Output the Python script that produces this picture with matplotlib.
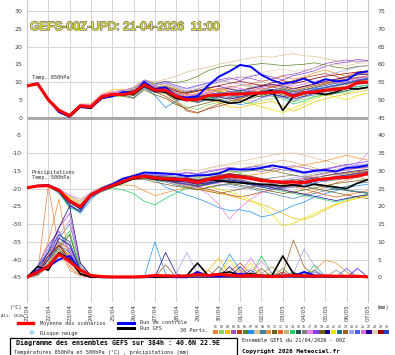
import matplotlib
matplotlib.use('Agg')
import matplotlib.pyplot as plt
from matplotlib.lines import Line2D
from matplotlib.patches import Rectangle
import matplotlib.patheffects as pe

# 12-hourly steps of the 00Z run, 0..384h
hours = list(range(0, 385, 12))
day_hours = list(range(0, 385, 24))
day_labels = ['21/04', '22/04', '23/04', '24/04', '25/04', '26/04', '27/04', '28/04', '29/04',
              '30/04', '01/05', '02/05', '03/05', '04/05', '05/05', '06/05', '07/05']

# ---- temperature 850 hPa (degC)
t850_mean = [8.9, 9.5, 5.0, 2.0, 0.5, 3.3, 3.0, 5.8, 6.5, 6.5, 6.9, 9.2, 7.7, 7.7, 6.0, 5.0, 5.0,
             6.2, 6.3, 6.6, 6.6, 6.8, 6.9, 7.1, 7.2, 6.0, 7.0, 7.2, 7.7, 8.0, 8.3, 9.8, 10.0]
t850_ctrl = [9.0, 9.6, 5.2, 1.5, 0.3, 3.2, 2.8, 5.5, 6.0, 7.2, 6.8, 10.0, 8.0, 8.5, 6.0, 5.6, 6.0,
             9.0, 11.5, 13.0, 14.8, 14.3, 12.0, 10.5, 9.5, 10.0, 11.0, 9.6, 10.8, 10.2, 10.5, 12.5, 13.0]
t850_gfs = [8.9, 9.4, 4.8, 1.6, 0.2, 3.0, 2.6, 5.4, 6.2, 6.8, 6.4, 8.8, 7.4, 7.2, 5.4, 4.8, 5.2,
            5.0, 4.8, 4.0, 4.3, 5.8, 7.0, 7.6, 2.0, 6.0, 6.8, 7.0, 6.5, 7.2, 8.3, 8.0, 8.5]
t850_members = [
    [8.8, 9.4, 5.3, 2.4, 0.8, 3.6, 3.5, 6.2, 7.0, 7.4, 7.8, 9.8, 8.4, 7.0, 5.2, 4.6, 5.8, 7.0, 7.5, 8.2, 7.6, 8.0, 8.8, 9.2, 8.5, 7.4, 8.6, 9.0, 9.8, 10.5, 11.2, 12.0, 12.4],
    [9.0, 9.6, 4.8, 1.8, 0.2, 2.9, 2.6, 5.2, 5.8, 6.0, 6.2, 8.6, 7.0, 6.8, 4.4, 3.0, 2.2, 3.6, 4.2, 5.0, 4.6, 3.8, 4.8, 5.2, 6.0, 4.4, 5.2, 6.0, 6.6, 7.0, 6.8, 8.0, 8.6],
    [8.9, 9.5, 5.1, 2.2, 0.6, 3.4, 3.3, 6.4, 7.8, 8.0, 7.2, 9.6, 8.8, 8.0, 6.6, 5.8, 6.2, 5.4, 4.2, 3.0, 2.8, 3.6, 4.0, 4.6, 3.2, 1.8, 3.0, 4.4, 5.2, 6.0, 6.6, 7.2, 7.8],
    [8.9, 9.5, 4.9, 1.9, 0.4, 3.1, 2.9, 5.6, 6.2, 7.2, 8.0, 10.2, 9.0, 9.6, 8.2, 7.4, 8.0, 9.2, 10.0, 10.8, 11.4, 11.0, 10.2, 10.8, 11.8, 12.2, 13.0, 14.0, 15.2, 15.8, 16.2, 15.6, 16.0],
    [8.8, 9.4, 5.2, 2.3, 0.7, 3.5, 3.2, 6.0, 6.8, 6.2, 7.0, 9.0, 7.2, 6.0, 4.0, 2.2, 1.4, 2.4, 3.2, 4.0, 5.2, 6.4, 7.6, 8.6, 9.6, 10.4, 11.2, 11.8, 12.4, 11.6, 10.4, 11.2, 11.8],
    [9.0, 9.6, 5.0, 2.0, 0.3, 3.2, 3.1, 5.9, 6.6, 7.6, 8.4, 10.4, 9.6, 10.2, 9.8, 10.4, 11.6, 13.2, 14.2, 14.8, 14.6, 14.8, 15.2, 15.0, 14.6, 14.8, 15.0, 15.4, 14.8, 14.2, 13.8, 14.4, 14.6],
    [8.9, 9.5, 5.0, 1.9, 0.4, 3.0, 2.8, 5.4, 6.0, 6.8, 6.4, 8.6, 6.2, 2.8, 4.6, 5.6, 6.6, 5.8, 5.2, 4.4, 3.6, 4.2, 5.6, 6.4, 5.8, 6.6, 7.8, 8.2, 7.6, 8.8, 9.6, 10.4, 10.8],
    [8.9, 9.5, 5.1, 2.1, 0.6, 3.3, 3.2, 6.0, 6.8, 7.6, 8.6, 10.6, 10.0, 10.8, 11.6, 12.8, 13.6, 14.2, 15.0, 15.6, 16.2, 16.8, 17.2, 17.0, 17.6, 18.0, 17.4, 17.2, 16.6, 16.0, 15.4, 16.0, 15.8],
    [8.8, 9.4, 4.8, 1.7, 0.2, 2.8, 2.7, 5.3, 5.8, 6.4, 5.6, 8.2, 7.0, 7.6, 6.0, 5.2, 4.8, 6.0, 6.8, 6.0, 5.6, 6.4, 7.2, 6.4, 5.8, 4.6, 5.8, 6.4, 7.2, 7.6, 8.2, 8.8, 9.0],
    [9.0, 9.6, 5.2, 2.4, 0.9, 3.8, 3.8, 6.6, 7.2, 6.8, 7.6, 9.8, 8.2, 8.6, 7.4, 6.6, 6.0, 6.8, 7.8, 8.6, 9.0, 9.4, 10.2, 10.8, 11.6, 10.8, 11.4, 12.6, 13.4, 12.4, 11.6, 12.2, 12.6],
    [8.9, 9.5, 5.0, 2.0, 0.5, 3.2, 3.0, 5.8, 6.4, 7.0, 8.0, 9.6, 8.4, 7.0, 6.4, 7.2, 7.6, 8.0, 7.4, 6.8, 7.6, 8.4, 9.2, 8.6, 8.0, 7.2, 7.8, 8.6, 9.4, 10.0, 10.6, 11.4, 11.2],
    [8.9, 9.5, 5.0, 2.1, 0.4, 3.1, 3.1, 5.8, 6.2, 6.6, 6.8, 9.0, 7.6, 8.0, 7.0, 6.2, 6.8, 7.6, 8.2, 7.4, 6.6, 7.4, 8.0, 8.6, 9.2, 8.2, 8.8, 9.6, 10.0, 10.8, 11.6, 12.8, 13.2],
    [8.8, 9.4, 4.9, 1.8, 0.3, 3.0, 2.9, 5.6, 6.2, 7.0, 7.4, 9.4, 8.0, 8.8, 7.8, 6.4, 5.6, 6.6, 7.6, 8.4, 9.2, 8.6, 8.0, 7.4, 6.8, 6.0, 6.8, 7.4, 8.2, 8.8, 9.4, 9.8, 10.2],
    [9.0, 9.6, 5.1, 2.2, 0.7, 3.4, 3.4, 6.2, 6.8, 7.2, 7.2, 9.2, 7.8, 8.2, 6.8, 5.4, 4.8, 5.6, 6.2, 5.6, 6.4, 7.2, 6.6, 6.0, 5.4, 3.8, 4.6, 5.8, 6.4, 7.0, 7.4, 8.6, 9.2],
    [8.9, 9.5, 5.0, 2.0, 0.5, 3.3, 2.9, 5.7, 6.6, 6.2, 6.6, 8.8, 7.4, 7.8, 6.2, 5.0, 4.2, 5.0, 5.8, 6.6, 7.2, 6.4, 5.8, 6.6, 7.4, 6.8, 7.4, 6.8, 6.2, 6.8, 7.6, 8.2, 8.6],
    [8.9, 9.5, 5.0, 2.0, 0.6, 3.4, 3.1, 5.9, 6.4, 6.8, 7.0, 9.4, 8.2, 7.8, 6.8, 5.8, 5.4, 6.2, 6.8, 7.4, 6.8, 6.2, 7.0, 7.8, 7.2, 6.4, 7.2, 7.8, 8.4, 9.0, 9.4, 10.2, 10.8],
    [9.0, 9.6, 5.2, 2.3, 0.8, 3.6, 3.6, 6.4, 7.2, 7.8, 7.0, 9.6, 8.0, 8.4, 7.2, 6.6, 6.2, 7.0, 6.4, 5.8, 5.2, 4.6, 5.4, 6.2, 5.6, 6.8, 7.6, 8.4, 9.2, 9.8, 10.4, 11.0, 11.6],
    [8.8, 9.4, 4.8, 1.6, 0.1, 2.7, 2.6, 5.4, 6.0, 6.6, 7.8, 10.6, 9.4, 10.2, 9.0, 8.2, 9.0, 9.8, 10.6, 11.2, 10.4, 11.6, 12.2, 11.4, 10.6, 11.8, 12.4, 13.2, 14.4, 15.2, 15.6, 16.4, 16.0],
    [8.9, 9.5, 5.0, 2.0, 0.5, 3.2, 3.0, 5.8, 6.4, 6.0, 5.4, 7.8, 6.4, 5.4, 3.6, 2.6, 3.4, 4.2, 5.0, 5.6, 4.8, 5.4, 6.2, 7.0, 6.4, 5.6, 6.4, 7.2, 7.8, 8.4, 8.8, 9.6, 10.0],
    [8.9, 9.5, 5.1, 2.1, 0.6, 3.3, 3.2, 5.9, 6.6, 7.2, 7.6, 9.8, 8.6, 9.0, 7.8, 7.0, 7.6, 8.4, 8.8, 8.0, 7.4, 8.2, 8.8, 9.4, 8.8, 8.0, 8.8, 9.4, 10.2, 10.8, 11.4, 12.0, 12.2],
    [9.0, 9.6, 5.0, 2.1, 0.5, 3.3, 3.2, 6.0, 6.6, 7.4, 8.2, 10.0, 9.4, 9.0, 8.0, 6.8, 7.4, 8.2, 7.6, 6.8, 5.6, 4.0, 3.0, 2.2, 1.4, 2.6, 4.0, 5.2, 6.4, 5.8, 5.0, 6.2, 6.8],
    [8.9, 9.5, 4.9, 1.9, 0.4, 3.1, 2.9, 5.6, 6.2, 6.6, 6.8, 9.0, 7.6, 7.2, 5.8, 4.8, 4.4, 5.4, 6.0, 6.6, 7.0, 7.6, 6.8, 7.4, 8.0, 7.2, 7.8, 8.4, 9.0, 9.6, 10.0, 10.6, 11.0],
    [8.8, 9.4, 5.0, 2.0, 0.4, 3.2, 3.0, 5.8, 6.4, 6.8, 7.2, 9.2, 7.6, 6.8, 4.8, 1.8, 1.2, 2.6, 3.8, 4.6, 5.4, 6.2, 7.0, 7.6, 8.4, 7.6, 8.2, 9.0, 9.6, 10.2, 9.4, 10.2, 10.6],
    [9.0, 9.6, 5.1, 2.2, 0.6, 3.4, 3.3, 6.0, 6.8, 7.6, 8.4, 10.4, 9.2, 9.8, 8.6, 8.0, 8.8, 9.6, 10.4, 10.0, 9.4, 9.0, 8.4, 7.8, 8.6, 9.4, 10.2, 11.0, 11.8, 12.6, 13.4, 14.2, 14.6],
    [8.9, 9.5, 5.0, 2.0, 0.5, 3.2, 3.0, 5.8, 6.4, 6.8, 7.0, 9.4, 7.8, 8.2, 6.4, 5.6, 5.2, 6.0, 6.6, 7.2, 7.8, 7.2, 6.6, 7.2, 7.8, 6.6, 7.2, 8.0, 8.6, 9.2, 9.8, 10.6, 11.0],
    [8.9, 9.5, 5.2, 2.3, 0.7, 3.5, 3.4, 6.2, 7.0, 7.6, 8.0, 9.8, 8.4, 8.0, 6.6, 5.8, 6.4, 7.2, 8.0, 8.8, 8.2, 7.6, 8.4, 9.0, 9.6, 8.8, 9.4, 10.2, 10.8, 10.2, 9.6, 10.8, 11.4],
    [8.8, 9.4, 4.9, 1.8, 0.3, 3.0, 2.8, 5.6, 6.2, 6.4, 6.6, 8.8, 7.2, 7.6, 6.2, 5.4, 5.8, 6.4, 5.8, 5.2, 5.8, 6.6, 7.2, 6.6, 6.0, 5.2, 6.0, 6.8, 7.4, 8.0, 8.6, 9.4, 9.6],
    [9.0, 9.6, 5.1, 2.1, 0.6, 3.4, 3.2, 6.0, 6.8, 7.4, 7.8, 9.8, 8.6, 9.2, 8.4, 7.6, 8.2, 9.0, 9.8, 10.6, 11.2, 11.8, 12.6, 13.2, 13.6, 13.0, 13.4, 14.0, 14.6, 15.0, 14.6, 15.2, 15.4],
    [8.9, 9.5, 5.0, 2.0, 0.5, 3.3, 3.1, 5.8, 6.6, 7.0, 7.4, 9.4, 8.2, 8.6, 7.4, 6.8, 7.4, 8.2, 9.0, 9.6, 10.2, 9.6, 9.0, 9.8, 10.4, 9.6, 10.2, 11.0, 11.6, 12.0, 12.4, 12.8, 13.0],
    [8.9, 9.5, 5.0, 2.0, 0.5, 3.1, 2.9, 5.7, 6.2, 6.8, 7.2, 9.2, 7.8, 7.4, 6.0, 5.2, 5.6, 6.4, 7.0, 6.4, 5.8, 6.6, 7.4, 8.0, 7.2, 6.4, 7.0, 7.8, 8.4, 9.0, 9.6, 10.4, 10.8],
]

# ---- temperature 500 hPa (degC)
t500_mean = [-19.8, -19.3, -19.2, -20.5, -23.5, -25.2, -21.8, -20.3, -19.2, -18.0, -16.9, -16.6, -17.0,
             -17.3, -17.4, -17.6, -18.3, -17.5, -17.0, -16.5, -16.8, -17.2, -17.8, -18.0, -18.2, -18.2,
             -18.3, -17.6, -17.3, -17.0, -16.9, -16.5, -15.8]
t500_ctrl = [-19.8, -19.2, -19.0, -20.4, -23.6, -25.6, -22.0, -20.0, -18.8, -17.2, -16.5, -15.5, -15.6,
             -15.8, -16.0, -16.5, -16.3, -16.2, -15.8, -14.5, -14.7, -14.6, -14.2, -13.5, -14.0, -14.8,
             -15.5, -15.0, -14.8, -15.2, -14.2, -14.0, -13.5]
t500_gfs = [-19.8, -19.3, -19.3, -20.8, -23.8, -25.4, -21.6, -20.4, -19.4, -18.4, -17.2, -16.8, -17.4,
            -17.6, -17.8, -17.6, -18.0, -17.6, -17.8, -18.2, -18.4, -18.6, -18.8, -19.0, -19.3, -19.0,
            -19.5, -18.8, -19.2, -19.6, -20.0, -18.5, -17.5]
t500_members = [
    [-19.8, -19.2, -19.0, -20.2, -23.0, -24.6, -21.2, -19.8, -18.6, -17.4, -16.2, -16.0, -16.6, -17.0, -17.8, -18.4, -19.0, -18.2, -17.4, -16.8, -17.4, -18.2, -19.0, -19.6, -20.4, -21.0, -21.6, -20.8, -19.6, -18.4, -17.6, -16.8, -16.2],
    [-19.9, -19.4, -19.4, -20.8, -24.0, -25.8, -22.6, -21.0, -19.8, -18.6, -17.2, -17.0, -17.6, -18.0, -17.2, -16.4, -17.0, -16.4, -15.8, -15.2, -15.8, -16.4, -17.2, -18.0, -18.8, -19.4, -18.6, -17.8, -17.0, -16.4, -15.8, -15.2, -14.6],
    [-19.8, -19.3, -19.1, -20.4, -22.6, -24.2, -21.6, -20.0, -19.0, -17.6, -16.6, -16.4, -17.2, -17.8, -18.4, -19.0, -19.8, -20.6, -21.4, -22.0, -22.8, -23.6, -24.4, -25.6, -27.0, -28.4, -28.8, -27.6, -26.0, -24.6, -23.4, -22.6, -22.0],
    [-19.8, -19.3, -19.3, -20.6, -24.6, -26.6, -22.0, -20.4, -19.4, -18.2, -16.6, -15.8, -16.0, -16.4, -16.0, -15.4, -15.8, -15.0, -14.6, -14.0, -14.4, -14.8, -15.2, -14.6, -14.0, -13.6, -14.2, -14.8, -14.4, -13.8, -13.2, -13.6, -13.2],
    [-19.7, -19.2, -19.0, -20.3, -23.2, -24.8, -21.4, -20.0, -18.8, -17.6, -16.6, -16.4, -17.0, -17.6, -18.2, -18.8, -19.6, -20.2, -21.0, -21.8, -22.4, -21.8, -21.0, -20.4, -19.8, -19.2, -18.6, -18.0, -17.4, -16.8, -16.4, -16.0, -15.6],
    [-19.8, -19.4, -19.2, -20.6, -23.8, -25.6, -22.2, -20.6, -19.2, -18.0, -16.8, -16.4, -16.4, -16.6, -16.8, -16.2, -16.8, -16.0, -15.4, -15.0, -15.4, -15.0, -14.6, -15.0, -15.6, -16.2, -16.8, -16.2, -15.6, -15.2, -14.8, -14.2, -14.0],
    [-19.8, -19.3, -19.2, -21.4, -25.0, -27.0, -23.2, -20.2, -19.0, -17.8, -16.6, -16.4, -17.4, -19.6, -20.8, -21.8, -22.8, -24.0, -25.4, -26.2, -26.0, -26.6, -28.0, -27.4, -26.2, -24.8, -23.8, -22.4, -21.4, -20.6, -19.8, -19.2, -18.8],
    [-19.8, -19.2, -19.1, -20.2, -23.0, -24.4, -21.0, -19.6, -18.4, -17.2, -16.0, -15.4, -15.6, -15.8, -15.4, -14.8, -15.0, -14.2, -13.6, -13.0, -12.4, -11.8, -11.2, -10.6, -10.2, -10.0, -10.6, -11.4, -12.2, -13.0, -13.8, -14.2, -14.6],
    [-19.9, -19.4, -19.3, -20.7, -24.4, -26.6, -22.4, -20.8, -19.6, -18.4, -17.4, -17.2, -17.6, -18.2, -19.0, -19.6, -20.4, -19.8, -19.2, -18.8, -19.4, -20.0, -20.8, -21.4, -22.2, -22.8, -22.0, -21.4, -20.6, -20.0, -19.4, -18.6, -18.2],
    [-19.8, -19.3, -19.2, -20.4, -23.4, -25.0, -21.6, -20.0, -19.4, -19.0, -19.2, -20.6, -22.0, -21.2, -20.4, -19.8, -19.2, -18.6, -18.0, -17.4, -16.8, -16.2, -15.8, -15.2, -14.6, -14.0, -13.4, -12.8, -12.2, -11.4, -10.6, -11.4, -12.0],
    [-19.8, -19.3, -19.2, -20.5, -23.4, -25.1, -21.8, -20.2, -19.0, -17.8, -16.8, -16.6, -17.0, -17.4, -17.8, -18.0, -18.6, -18.0, -17.6, -17.2, -17.8, -18.4, -19.0, -19.6, -19.2, -18.8, -19.4, -20.0, -20.6, -21.2, -21.8, -22.4, -22.8],
    [-19.8, -19.2, -19.1, -20.3, -23.2, -24.8, -21.4, -20.0, -18.8, -17.6, -16.4, -16.2, -16.8, -17.2, -17.6, -17.2, -17.8, -17.2, -16.8, -16.2, -16.6, -17.0, -17.6, -18.2, -18.8, -19.4, -20.2, -21.0, -21.8, -22.4, -21.8, -21.2, -20.6],
    [-19.8, -19.3, -19.2, -20.5, -23.5, -25.2, -21.9, -20.4, -19.2, -18.0, -16.8, -16.2, -16.6, -17.0, -16.6, -16.2, -16.8, -16.2, -15.6, -15.0, -14.4, -13.8, -13.2, -12.6, -12.0, -12.6, -13.4, -14.2, -15.0, -15.8, -16.4, -17.0, -17.4],
    [-19.9, -19.4, -19.3, -21.0, -25.6, -26.0, -22.2, -20.8, -19.8, -20.4, -21.4, -23.6, -24.6, -22.8, -21.2, -20.0, -19.4, -18.8, -18.2, -17.8, -18.4, -19.0, -19.6, -20.2, -20.8, -21.4, -22.0, -22.6, -23.2, -23.8, -23.0, -22.2, -21.6],
    [-19.8, -19.3, -19.2, -20.5, -23.6, -25.3, -22.0, -20.4, -19.2, -18.0, -16.8, -16.6, -17.2, -17.8, -18.2, -18.6, -19.2, -18.6, -18.0, -17.6, -18.2, -18.8, -19.4, -19.0, -18.4, -17.8, -18.4, -19.0, -19.6, -20.2, -20.6, -21.0, -21.4],
    [-19.8, -19.3, -19.1, -20.4, -23.4, -25.1, -21.7, -20.2, -19.0, -17.8, -16.8, -16.6, -17.0, -17.2, -17.0, -16.8, -17.4, -16.8, -16.2, -15.8, -16.2, -16.8, -17.4, -17.0, -16.6, -16.2, -16.8, -17.4, -18.0, -17.6, -17.0, -16.6, -16.2],
    [-19.8, -19.2, -19.0, -20.2, -21.8, -23.0, -21.2, -19.8, -18.6, -17.4, -16.4, -16.2, -16.8, -17.4, -18.0, -18.6, -19.8, -21.6, -24.4, -28.6, -25.4, -23.0, -21.2, -20.2, -19.6, -19.0, -18.4, -17.8, -17.2, -16.4, -15.6, -13.0, -10.0],
    [-19.9, -19.4, -19.3, -20.7, -23.9, -25.7, -22.4, -20.8, -19.6, -18.2, -16.8, -16.0, -16.2, -16.4, -16.0, -15.6, -16.0, -15.4, -14.8, -14.2, -14.6, -14.0, -13.6, -14.2, -14.8, -15.2, -15.8, -15.2, -14.6, -14.0, -13.4, -12.8, -12.4],
    [-19.8, -19.3, -19.2, -20.5, -23.4, -25.0, -21.8, -20.2, -19.2, -18.2, -17.4, -17.4, -18.2, -18.8, -19.4, -19.8, -20.4, -19.6, -19.0, -18.6, -19.0, -19.6, -20.2, -20.8, -21.4, -21.0, -20.4, -19.8, -19.2, -18.6, -18.2, -17.8, -17.4],
    [-19.8, -19.3, -19.2, -20.9, -24.8, -26.4, -21.8, -20.2, -19.0, -17.8, -16.6, -16.2, -16.6, -16.8, -17.0, -17.2, -17.8, -17.2, -16.6, -16.0, -16.4, -17.0, -17.6, -18.2, -18.6, -18.2, -17.6, -17.0, -16.4, -15.8, -15.4, -15.0, -14.6],
    [-19.8, -19.3, -19.1, -20.3, -22.4, -23.4, -21.6, -20.0, -18.8, -17.6, -16.6, -16.4, -16.8, -17.2, -17.6, -18.0, -18.8, -19.4, -20.2, -21.0, -22.0, -23.2, -25.0, -27.4, -30.6, -29.8, -28.4, -27.0, -25.6, -24.4, -23.6, -22.8, -22.2],
    [-19.8, -19.4, -19.3, -20.6, -23.6, -25.3, -22.0, -20.4, -19.2, -18.0, -17.0, -16.8, -17.4, -17.8, -18.4, -18.8, -19.4, -18.8, -18.2, -17.6, -18.0, -18.6, -19.2, -18.6, -18.0, -17.4, -18.0, -18.6, -19.2, -19.8, -20.4, -20.8, -21.2],
    [-19.8, -19.3, -19.2, -20.4, -23.3, -25.0, -21.6, -20.0, -18.8, -17.6, -16.6, -16.6, -17.2, -17.8, -18.6, -19.4, -20.2, -20.8, -21.4, -20.8, -20.2, -19.6, -19.0, -18.4, -18.0, -17.6, -17.2, -16.8, -16.4, -16.0, -15.6, -15.2, -15.0],
    [-19.8, -19.2, -19.0, -20.0, -22.0, -23.8, -21.3, -19.8, -18.6, -17.4, -16.2, -15.6, -15.8, -16.2, -16.6, -17.0, -17.6, -18.2, -18.8, -19.4, -20.0, -19.4, -18.8, -18.2, -17.6, -17.0, -16.4, -15.8, -15.2, -14.6, -14.0, -13.4, -13.0],
    [-19.9, -19.4, -19.3, -20.6, -23.7, -25.4, -22.0, -20.4, -19.2, -18.0, -17.0, -16.8, -17.2, -17.6, -18.0, -18.2, -18.8, -18.2, -17.6, -17.0, -17.6, -18.2, -18.8, -19.4, -20.0, -19.6, -19.0, -18.4, -17.8, -17.2, -16.6, -16.2, -15.8],
    [-19.8, -19.3, -19.2, -20.5, -23.5, -25.2, -21.8, -20.2, -19.0, -17.8, -16.8, -16.6, -17.2, -17.8, -18.4, -19.0, -19.6, -19.0, -18.4, -17.8, -18.2, -18.8, -19.4, -18.8, -18.2, -17.6, -17.0, -16.4, -15.8, -15.2, -14.8, -14.4, -14.0],
    [-19.8, -19.3, -19.2, -20.4, -23.4, -25.1, -21.7, -20.2, -19.0, -17.8, -16.8, -16.6, -17.0, -17.4, -17.8, -18.2, -18.8, -18.4, -18.0, -17.6, -18.0, -18.6, -19.2, -19.8, -20.4, -21.0, -21.6, -22.2, -22.8, -23.4, -22.8, -22.2, -21.8],
    [-19.8, -19.3, -19.2, -20.5, -23.5, -25.2, -21.8, -20.2, -19.0, -17.8, -16.4, -15.8, -15.6, -15.4, -15.0, -14.6, -15.0, -14.4, -13.8, -13.4, -13.0, -12.8, -13.4, -14.0, -14.6, -15.2, -15.8, -16.4, -17.0, -16.6, -16.2, -15.8, -15.6],
    [-19.8, -19.3, -19.2, -20.5, -23.5, -25.2, -21.8, -20.2, -19.0, -17.8, -16.8, -16.6, -17.0, -17.4, -17.2, -17.0, -17.6, -17.0, -16.4, -15.8, -16.2, -16.6, -17.2, -17.8, -18.4, -19.0, -18.6, -18.0, -17.4, -16.8, -16.2, -15.6, -15.2],
    [-19.8, -19.3, -19.2, -20.5, -23.5, -25.2, -21.8, -20.2, -19.0, -17.8, -16.8, -16.6, -17.2, -17.8, -18.4, -18.8, -19.4, -18.8, -18.2, -17.8, -18.4, -19.0, -19.6, -20.2, -19.6, -19.0, -18.4, -17.8, -17.2, -16.6, -16.2, -15.8, -15.4],
]

# ---- precipitation (mm / 12h), drawn on the -45 degC baseline
pr_mean = [0, 1.5, 3, 6.5, 4.5, 2, 0.5, 0.2, 0.1, 0.1, 0.1,
           0.2, 0.5, 0.4, 0.3, 0.4, 0.8, 0.5, 0.8, 0.6, 0.4, 0.5,
           0.4, 0.2, 0.3, 0.5, 0.4, 0.3, 0.4, 0.3, 0.3, 0.3, 0.1]
pr_ctrl = [0, 2, 3, 5, 6, 2, 0.5, 0, 0, 0, 0,
           0, 0.3, 0.3, 0, 0, 1.5, 0.3, 0.3, 0.5, 1, 0.5,
           0.3, 0.3, 0.5, 0.3, 1.5, 0.5, 0.3, 0.3, 0.3, 0.3, 0]
pr_gfs = [0, 3, 2, 7, 5, 1, 0, 0, 0, 0, 0,
          0, 0, 0, 0, 0.5, 4, 0.5, 1, 1.5, 0.5, 1,
          0.5, 0.5, 6, 1, 0.5, 0.3, 0.3, 0.3, 0.3, 0.3, 0]
pr_members = [
    [0, 1, 26, 8, 2, 0.5, 0, 0, 0, 0, 0, 0, 0, 0, 0.5, 0, 0, 2, 0, 0.5, 0, 0, 0, 0, 0, 0, 0, 0, 0, 0, 0, 0, 0],
    [0, 3, 6, 9, 12, 2, 0.5, 0, 0, 0, 0, 0, 0, 0, 0, 0, 0, 0, 0.5, 0, 0, 0, 0, 1.5, 0, 0, 0, 0, 0, 0, 0, 0, 0],
    [0, 0.5, 4, 10, 7, 1, 0, 0, 0, 0, 0, 0, 0, 0, 0, 0, 0.5, 2, 5.5, 1, 0, 0, 0, 0, 0, 0, 0, 0, 0, 0, 0, 0, 0],
    [0, 2, 8, 14, 18, 3, 0.5, 0, 0, 0, 0, 0, 0, 0, 0, 0, 0, 0, 0.5, 0, 0, 0, 0, 0, 0, 0, 0, 0, 0, 0, 0, 2.5, 0],
    [0, 1, 5, 9, 6, 2, 0, 0, 0, 0, 0, 0, 0, 0, 0, 0, 0, 0, 0, 1.5, 4, 1, 0, 0, 0, 0, 0, 0, 0, 0, 0, 0, 0],
    [0, 2, 4, 8, 5, 1, 0, 0, 0, 0, 0, 0, 0, 0, 0, 0, 0, 0, 0, 0, 0.5, 1, 0, 0, 2.5, 0, 0, 0, 0, 0, 0, 0, 0],
    [0, 1, 6, 12, 9, 2, 0, 0, 0, 0, 0, 0, 10, 1, 0, 0, 0, 0, 1, 6.5, 2, 0, 0, 0, 0, 0, 0, 0, 0, 0, 0, 0, 0],
    [0, 2, 5, 7, 4, 1, 0, 0, 0, 0, 0, 0, 0, 0, 0, 0, 0, 0, 0, 0.5, 1, 2.5, 1, 3, 0, 0, 0, 0, 0, 0, 0, 0, 0],
    [0, 0.5, 3, 11, 15, 4, 0.5, 0, 0, 0, 0, 0, 0, 0, 0, 0, 0, 0, 0, 0, 0, 0, 0, 0, 0, 0, 0, 0, 0, 0, 0, 0, 0],
    [0, 3, 10, 22, 5, 1, 0, 0, 0, 0, 0, 0, 0, 0, 0, 0, 0, 0, 0, 0, 0, 0, 0, 0, 0, 0, 1, 2, 4.8, 4, 1.5, 0, 0],
    [0, 1, 4, 8, 6, 1, 0, 0, 0, 0, 0, 0, 0, 0, 0, 0, 0, 0, 3, 0, 0, 0, 0, 0, 0, 0, 0, 0, 0, 0, 0, 0, 0],
    [0, 2, 7, 10, 3, 0.5, 0, 0, 0, 0, 0, 0, 0, 0, 0, 0, 0, 0, 0, 0, 2, 0, 0, 0, 0, 0, 0, 0, 0, 0, 0, 0, 0],
    [0, 1, 3, 6, 4, 1, 0, 0, 0, 0, 0, 0, 0, 0, 0, 0, 0, 0, 0, 0, 0, 0, 1, 3, 1, 0, 0, 0, 0, 0, 0, 0, 0],
    [0, 2, 5, 9, 13, 3, 0, 0, 0, 0, 0, 0, 0, 0, 0, 0, 0, 0, 0, 0, 0, 0.5, 6, 1, 0, 0, 0, 3.5, 0, 0, 0, 0, 0],
    [0, 1, 4, 7, 5, 1, 0, 0, 0, 0, 0, 0, 0, 0, 0, 0, 0, 0, 0, 0, 0, 0, 0, 0, 0, 1.5, 0, 0, 0, 0, 0, 0, 0],
    [0, 2, 6, 10, 8, 2, 0, 0, 0, 0, 0, 0, 0, 0, 0, 0, 0, 0, 0, 0, 0, 0, 0, 0, 0, 0, 0, 0, 0, 2, 0, 0, 0],
    [0, 1, 5, 12, 16, 4, 0, 0, 0, 0, 0, 0, 0, 0, 0, 0, 0, 0, 0, 0, 0, 1, 4.5, 1, 0, 0, 0, 0, 0, 0, 0, 0, 0],
    [0, 3, 9, 13, 7, 1, 0, 0, 0, 0, 0, 0, 0, 0, 0, 0, 0, 0, 0, 0, 0, 0, 0, 0, 0, 0, 0, 1.5, 0, 0, 0, 2.5, 0],
    [0, 1, 4, 8, 12, 2, 0, 0, 0, 0, 0, 0, 0, 0, 0, 0, 0, 0, 0, 0, 0, 0, 2.5, 0, 0, 0, 0, 0, 0, 0, 0, 0, 0],
    [0, 2, 7, 14, 20, 4, 0.5, 0, 0, 0, 0, 0, 0, 7, 1, 0, 0, 0, 0, 0, 3, 0, 0, 0, 0, 0, 0, 0, 0, 0, 0, 0, 0],
    [0, 1, 5, 9, 6, 1, 0, 0, 0, 0, 0, 0, 0, 0, 0, 0, 0, 0, 0, 5, 1, 4, 0, 0, 0, 0, 0, 0, 0, 0, 0, 0, 0],
    [0, 2, 6, 8, 5, 1, 0, 0, 0, 0, 0, 0, 0, 0, 0, 0, 0, 0, 0, 0, 0, 0, 0, 0, 0, 0, 0, 2, 0, 0, 0, 0, 0],
    [0, 1, 4, 9, 6, 1, 0, 0, 0, 0, 0, 0, 0, 3.5, 0, 0, 0, 0, 0, 0, 0, 0, 0, 0, 1, 10.5, 3, 0, 0, 0, 0, 0, 0],
    [0, 2, 8, 12, 9, 2, 0, 0, 0, 0, 0, 0, 0, 0, 1, 7, 1, 0, 0, 0, 0, 0, 0, 0, 0, 1, 8, 3, 0.5, 0, 0, 0, 0],
    [0, 1, 5, 9, 7, 2, 0, 0, 0, 0, 0, 0, 0, 0, 0, 0, 0, 0, 0, 0, 0, 0, 0, 0, 0, 0, 0, 0, 0, 0, 2.5, 0, 0],
    [0, 2, 6, 10, 8, 1, 0, 0, 0, 0, 0, 0, 0, 0, 0, 0, 0, 0, 0, 0, 1, 5.5, 1, 0, 0, 0, 0, 0, 0, 0, 0, 0, 0],
    [0, 1, 5, 11, 9, 2, 0, 0, 0, 0, 0, 0, 0, 0, 0, 0, 0, 0, 0, 3, 0, 0, 0, 0, 0, 0, 0, 0, 0, 0, 0, 0, 0],
    [0, 2, 4, 8, 6, 1, 0, 0, 0, 0, 0, 0, 0, 0, 0, 0, 2, 0, 0, 0, 0, 0, 0, 0, 0, 0, 0, 0, 0, 0, 0, 0, 0],
    [0, 1, 6, 9, 5, 1, 0, 0, 0, 0, 0, 0, 0, 0, 0, 0, 0, 0, 0, 0, 0, 0, 0, 0, 1.5, 0, 0, 0, 0, 0, 0, 0, 0],
    [0, 3, 7, 12, 10, 2, 0, 0, 0, 0, 0, 0, 0, 0, 0, 0, 0, 0, 0, 0, 0, 2, 0, 0, 0, 0, 0, 0, 0, 0, 0, 0, 0],
]

member_colors = ['#f08040', '#90d060', '#f0c000', '#a050c0', '#c04010', '#608020', '#2090f0', '#e0c090',
                 '#4080a0', '#f09030', '#706020', '#f06020', '#d0b080', '#20d060', '#205050', '#808080',
                 '#f080f0', '#8040f0', '#706010', '#200080', '#f0e000', '#207080', '#a06020', '#a0a0f0',
                 '#4060f0', '#e070e0', '#2000a0', '#e0d0b0', '#a00000', '#2040c0']

for name, grp in [('t850', t850_members), ('t500', t500_members), ('pr', pr_members)]:
    for k, s in enumerate(grp):
        assert len(s) == len(hours), (name, k, len(s))

W, H = 395, 355
fig = plt.figure(figsize=(W/100, H/100), dpi=100)
fig.patch.set_facecolor('white')

def fx(x):
    return x / W

def fy(y):
    return 1 - y / H

ax = fig.add_axes([fx(27), fy(302), 341/W, 302/H])
ax.set_xlim(0, 384)
ax.set_ylim(-51.97, 33.1)

for h in day_hours[1:-1]:
    ax.axvline(h, color='#d4d4d4', lw=0.7, zorder=0)
for t in [30, 20, 10, -10, -20, -30, -35, -40, -45]:
    ax.axhline(t, color='#d4d4d4', lw=0.7, zorder=0)
ax.axhline(0, color='#a8a8a8', lw=2.2, zorder=0)

for k in range(30):
    c = member_colors[k]
    ax.plot(hours, t850_members[k], color=c, lw=0.5, zorder=2)
    ax.plot(hours, t500_members[k], color=c, lw=0.5, zorder=2)
    ax.plot(hours, [p - 45 for p in pr_members[k]], color=c, lw=0.5, zorder=2)

for series, col, lw in [((t850_gfs, t500_gfs, pr_gfs), 'black', 1.2),
                        ((t850_ctrl, t500_ctrl, pr_ctrl), '#0000ff', 1.4),
                        ((t850_mean, t500_mean, pr_mean), '#ff0000', 2.2)]:
    a, b, p = series
    ax.plot(hours, a, color=col, lw=lw, zorder=4)
    ax.plot(hours, b, color=col, lw=lw, zorder=4)
    ax.plot(hours, [v - 45 for v in p], color=col, lw=lw, zorder=4)

yt = list(range(-45, 31, 5))
ax.set_yticks(yt, [str(t) for t in yt])
ax.set_xticks(day_hours, day_labels, rotation=90)
ax.tick_params(axis='y', length=0, labelsize=4.5, colors='#404040', pad=3.5)
ax.tick_params(axis='x', length=0, labelsize=4.2, colors='#404040', pad=1.5)
for s in ['top', 'bottom']:
    ax.spines[s].set_visible(False)
for s in ['left', 'right']:
    ax.spines[s].set_color('#c8c8c8')
    ax.spines[s].set_linewidth(0.8)

ax2 = ax.twinx()
ax2.set_ylim(ax.get_ylim())
ax2.set_yticks(yt, [str(t + 45) for t in yt])
ax2.tick_params(axis='y', length=0, labelsize=4.5, colors='#404040', pad=7)
for s in ['top', 'bottom', 'left', 'right']:
    ax2.spines[s].set_visible(False)

# title
fig.text(fx(30), fy(27), 'GEFS-00Z-UPD: 21-04-2026  11:00', fontsize=8.6,
         family='Liberation Sans', color='#f4f020', va='center', ha='left',
         path_effects=[pe.withStroke(linewidth=1.0, foreground='#707070')])

mono = 'DejaVu Sans Mono'
fig.text(fx(32), fy(77), 'Temp. 850hPa', fontsize=3.8, family=mono, color='#303030', va='center')
fig.text(fx(32), fy(172), 'Précipitations', fontsize=3.8, family=mono, color='#303030', va='center')
fig.text(fx(32), fy(177), 'Temp. 500hPa', fontsize=3.8, family=mono, color='#303030', va='center')

fig.text(fx(10), fy(307), '(°C)', fontsize=3.8, family=mono, color='#303030', va='center')
fig.text(fx(1), fy(316), 'Alt. 162m', fontsize=3.1, family=mono, color='#303030', va='center')
fig.text(fx(377), fy(308), '(mm)', fontsize=3.8, family=mono, color='#303030', va='center')

# legend
fig.add_artist(Line2D([fx(18), fx(33)], [fy(323), fy(323)], color='#ff0000', lw=2.4))
fig.text(fx(40), fy(323), 'Moyenne des scénarios', fontsize=3.8, family=mono, color='#303030', va='center')
fig.add_artist(Line2D([fx(118), fx(134)], [fy(323), fy(323)], color='#0000ff', lw=2.2))
fig.add_artist(Line2D([fx(118), fx(134)], [fy(328), fy(328)], color='black', lw=2.2))
fig.text(fx(140), fy(322), 'Run de contrôle', fontsize=3.8, family=mono, color='#303030', va='center')
fig.text(fx(140), fy(328), 'Run GFS', fontsize=3.8, family=mono, color='#303030', va='center')
fig.text(fx(180), fy(331), '30 Perts.', fontsize=3.8, family=mono, color='#303030', va='center')
fig.text(fx(31), fy(333), '❄', fontsize=5, family='DejaVu Sans', color='#60b0f0', va='center', ha='center')
fig.text(fx(40), fy(333), 'Risque neige', fontsize=3.8, family=mono, color='#303030', va='center')

for k, c in enumerate(member_colors):
    x0 = 213 + k * 5.9
    fig.add_artist(Rectangle((fx(x0), fy(334)), 5.3/W, 4/H, transform=fig.transFigure,
                             facecolor=c, edgecolor='none'))
    fig.text(fx(x0 + 2.6), fy(326.5), '%02d' % (k + 1), fontsize=2.3, family=mono,
             color='#303030', ha='center', va='center')

fig.add_artist(Rectangle((fx(10), fy(357)), 227/W, 19/H, transform=fig.transFigure,
                         facecolor='white', edgecolor='black', lw=0.9))
fig.text(fx(16), fy(343), 'Diagramme des ensembles GEFS sur 384h : 40.6N 22.9E', fontsize=4.8,
         family=mono, weight='bold', color='black', va='center')
fig.text(fx(14), fy(352), 'Températures 850hPa et 500hPa (°C) , précipitations (mm)', fontsize=3.7,
         family=mono, color='#202020', va='center')
fig.text(fx(242), fy(340), 'Ensemble GEFS du 21/04/2026 - 00Z', fontsize=3.8, family=mono,
         color='#202020', va='center')
fig.text(fx(242), fy(351), 'Copyright 2026 Meteociel.fr', fontsize=4.3, family=mono, weight='bold',
         color='black', va='center')

fig.savefig('out.png', dpi=100, facecolor='white')
